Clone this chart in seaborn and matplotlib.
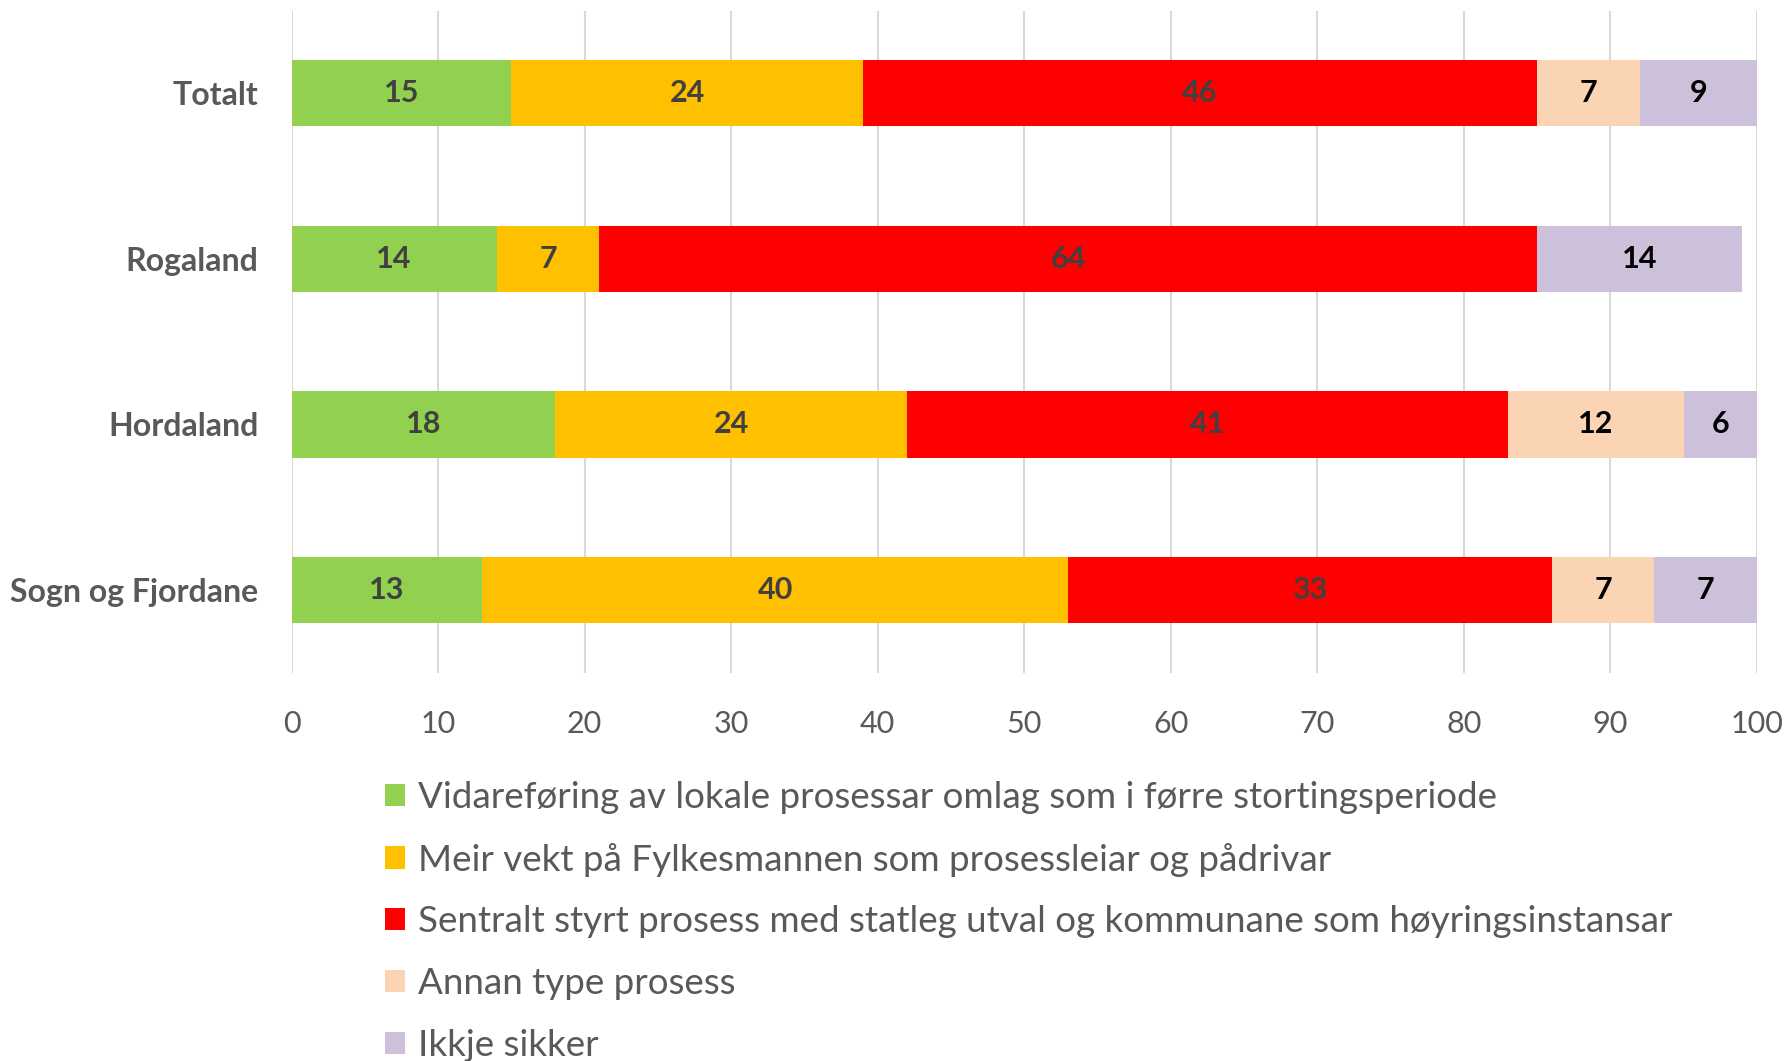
import pandas as pd
import matplotlib.pyplot as plt
import seaborn as sns
from matplotlib.patches import Patch

sns.set_theme(style="white")
plt.rcParams['font.family'] = ['Lato', 'DejaVu Sans']

# data (percent)
regions = ['Totalt', 'Rogaland', 'Hordaland', 'Sogn og Fjordane']
vidareforing = [15, 14, 18, 13]
fylkesmannen = [24, 7, 24, 40]
sentralt = [46, 64, 41, 33]
annan = [7, 0, 12, 7]
ikkje_sikker = [9, 14, 6, 7]

series_names = [
    'Vidareføring av lokale prosessar omlag som i førre stortingsperiode',
    'Meir vekt på Fylkesmannen som prosessleiar og pådrivar',
    'Sentralt styrt prosess med statleg utval og kommunane som høyringsinstansar',
    'Annan type prosess',
    'Ikkje sikker',
]
series_values = [vidareforing, fylkesmannen, sentralt, annan, ikkje_sikker]
colors = ['#92D050', '#FFC000', '#FF0000', '#FBD4B4', '#CCC0DA']
label_colors = ['#404040', '#404040', '#404040', '#000000', '#000000']

fig = plt.figure(figsize=(17.89, 10.61), dpi=100)
ax = fig.add_axes([0.163, 0.366, 0.819, 0.624])

left = [0] * len(regions)
for name, vals, col, lc in zip(series_names, series_values, colors, label_colors):
    df = pd.DataFrame({'region': regions, 'value': vals})
    sns.barplot(data=df, x='value', y='region', orient='h', color=col,
                left=left, width=0.4, saturation=1, ax=ax, linewidth=0)
    cont = ax.containers[-1]
    ax.bar_label(cont, labels=[str(v) if v else '' for v in vals],
                 label_type='center', fontsize=22, fontweight='bold', color=lc)
    left = [a + b for a, b in zip(left, vals)]

ax.set_xlim(0, 100)
ax.set_ylim(3.5, -0.5)
ax.set_xticks(range(0, 101, 10))
ax.set_xlabel('')
ax.set_ylabel('')
ax.grid(axis='x', color='#D9D9D9', linewidth=1.5)
ax.set_axisbelow(True)
for s in ax.spines.values():
    s.set_visible(False)
ax.tick_params(axis='x', length=0, pad=27, labelsize=22, labelcolor='#595959')
ax.tick_params(axis='y', length=0, pad=24, labelsize=23, labelcolor='#595959')
for t in ax.get_yticklabels():
    t.set_fontweight('bold')

handles = [Patch(facecolor=c, edgecolor='none') for c in colors]
fig.legend(handles, series_names, loc='upper left', bbox_to_anchor=(0.215, 0.264),
           frameon=False, fontsize=26.5, labelcolor='#595959',
           handlelength=0.55, handleheight=0.55, handletextpad=0.35,
           labelspacing=0.78, borderpad=0, borderaxespad=0)

fig.savefig('out.png', dpi=100)
